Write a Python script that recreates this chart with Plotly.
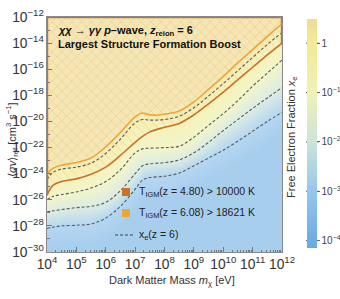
import numpy as np
import plotly.graph_objects as go

# ---------------- data ----------------
log_mass = [4.0, 4.2, 4.5, 5.0, 5.5, 6.0, 6.5, 7.0, 7.25, 7.5, 8.0, 8.5,
            9.0, 9.5, 10.0, 10.5, 11.0, 11.5, 12.0]

# T_IGM(z = 6.08) > 18621 K  (light orange boundary)
log_sv_T608 = [-24.05, -23.6, -23.35, -23.15, -22.8, -21.95, -20.85, -19.65, -19.35,
               -19.5, -19.45, -19.2, -18.5, -17.55, -16.55, -15.5, -14.5, -13.5, -12.5]
# T_IGM(z = 4.80) > 10000 K  (dark orange boundary)
log_sv_T480 = [-25.65, -24.9, -24.6, -24.4, -24.05, -23.5, -22.6, -21.6, -21.15,
               -20.8, -20.45, -20.15, -19.5, -18.65, -17.75, -16.8, -15.85, -14.9, -14.0]

# x_e(z = 6) contours
xe_levels = [0.0, -1.0, -2.0, -3.0]   # log10 x_e
log_sv_xe_1 = [-24.45, -23.9, -23.65, -23.5, -23.2, -22.45, -21.35, -20.1, -19.85,
               -19.9, -19.85, -19.6, -18.95, -18.05, -17.1, -16.1, -15.1, -14.1, -13.2]
log_sv_xe_01 = [-26.0, -25.75, -25.6, -25.4, -25.1, -24.6, -23.7, -22.4, -22.1,
                -22.05, -22.0, -21.9, -21.2, -20.3, -19.4, -18.4, -17.3, -16.3, -15.3]
log_sv_xe_001 = [-26.95, -26.85, -26.75, -26.6, -26.5, -26.2, -25.3, -24.0, -23.4,
                 -23.25, -23.15, -22.95, -22.4, -21.6, -20.7, -19.85, -19.0, -18.2, -17.4]
log_sv_xe_0001 = [-28.2, -28.1, -28.0, -27.95, -27.85, -27.4, -26.5, -25.2, -24.5,
                  -24.3, -24.2, -23.95, -23.4, -22.8, -22.2, -21.5, -20.75, -20.0, -19.3]

cbar_tick_vals = [0, -1, -2, -3, -4]
cbar_tick_text = ["1", "10<sup>−1</sup>", "10<sup>−2</sup>", "10<sup>−3</sup>", "10<sup>−4</sup>"]

# ---------------- styling ----------------
FONT = "Liberation Sans, Arial, sans-serif"
DARK_OR = "#c8722a"
LIGHT_OR = "#eba53c"
ZMIN, ZMAX = -4.15, 0.49

colorscale = [
    [0.0, "rgb(105,168,226)"],
    [0.248, "rgb(150,198,236)"],
    [0.463, "rgb(205,228,215)"],
    [0.679, "rgb(238,242,180)"],
    [0.894, "rgb(243,234,150)"],
    [1.0, "rgb(240,218,150)"],
]

# ---------------- background x_e field built from the contours ----------------
lm = np.array(log_mass)
gx = np.linspace(4, 12, 161)
gy = np.linspace(-30, -12, 181)
c_lines = [np.interp(gx, lm, c) for c in (log_sv_xe_0001, log_sv_xe_001, log_sv_xe_01, log_sv_xe_1)]
Z = np.empty((len(gy), len(gx)))
for j in range(len(gx)):
    c4, c3, c2, c1 = [c[j] for c in c_lines]
    xp = [-31, c4 - 1.5, c4, c3, c2, c1, c1 + 1.0, -11]
    fp = [-3.45, -3.45, xe_levels[3], xe_levels[2], xe_levels[1], xe_levels[0], 0.4, 0.4]
    Z[:, j] = np.interp(gy, xp, fp)

fig = go.Figure()
fig.add_trace(go.Heatmap(
    x=10 ** gx, y=10 ** gy, z=Z, colorscale=colorscale, zmin=ZMIN, zmax=ZMAX,
    opacity=0.7, zsmooth="best", hoverinfo="skip",
    colorbar=dict(
        x=(307 - 47) / 235, xanchor="left", xpad=0, ypad=0,
        y=(252 - 133.5) / 235, yanchor="middle", len=229 / 235, lenmode="fraction",
        thickness=10, outlinewidth=0,
        tickvals=cbar_tick_vals, ticktext=cbar_tick_text,
        ticks="outside", ticklen=3, tickcolor="#666",
        tickfont=dict(size=10, color="#444", family=FONT),
    ),
))

mass = [10 ** v for v in log_mass]

def region(log_sv, fill, shape):
    xs = mass + [1e12, 1e4]
    ys = [10 ** v for v in log_sv] + [1e-12, 1e-12]
    return go.Scatter(x=xs, y=ys, mode="lines", fill="toself", line=dict(width=0),
                      fillcolor=fill, hoverinfo="skip", showlegend=False,
                      fillpattern=dict(shape=shape, fgcolor="rgba(236,170,90,0.75)",
                                       bgcolor="rgba(0,0,0,0)", size=7, solidity=0.12,
                                       fillmode="overlay"))

fig.add_trace(region(log_sv_T480, "rgba(250,225,175,0.45)", "\\"))
fig.add_trace(region(log_sv_T608, "rgba(250,222,170,0.6)", "/"))

for c in (log_sv_xe_1, log_sv_xe_01, log_sv_xe_001, log_sv_xe_0001):
    fig.add_trace(go.Scatter(x=mass, y=[10 ** v for v in c], mode="lines",
                             line=dict(color="#5a5a5a", width=1.1, dash="3px,2px", shape="spline"),
                             hoverinfo="skip", showlegend=False))

# frame-edge outline of the excluded region
fig.add_trace(go.Scatter(x=[1e12, 1e12, 1e4, 1e4],
                         y=[10 ** log_sv_T480[-1], 1e-12, 1e-12, 10 ** log_sv_T480[0]],
                         mode="lines", line=dict(color=DARK_OR, width=2.4),
                         hoverinfo="skip", showlegend=False))
fig.add_trace(go.Scatter(x=mass, y=[10 ** v for v in log_sv_T480], mode="lines",
                         line=dict(color=DARK_OR, width=1.6, shape="spline"),
                         hoverinfo="skip", showlegend=False))
fig.add_trace(go.Scatter(x=mass, y=[10 ** v for v in log_sv_T608], mode="lines",
                         line=dict(color=LIGHT_OR, width=1.6, shape="spline"),
                         hoverinfo="skip", showlegend=False))

# ---------------- layout ----------------
def px(xp):
    return (xp - 47) / 235

def py(yp):
    return (252 - yp) / 235

ann = []
ann.append(dict(x=px(56), y=py(31), xref="paper", yref="paper", xanchor="left", yanchor="middle",
                showarrow=False, font=dict(size=11, color="#111", family=FONT),
                text="<b><i>χχ</i> → <i>γγ p</i>–wave, <i>z</i><sub>reion</sub> = 6</b>"))
ann.append(dict(x=px(56), y=py(44), xref="paper", yref="paper", xanchor="left", yanchor="middle",
                showarrow=False, font=dict(size=11, color="#111", family=FONT),
                text="<b>Largest Structure Formation Boost</b>"))
ann.append(dict(x=px(12), y=py(140), xref="paper", yref="paper", xanchor="center", yanchor="middle",
                textangle=-90, showarrow=False, font=dict(size=11, color="#333", family=FONT),
                text="⟨<i>σv</i>⟩<sub>ref</sub> [cm<sup>3</sup> s<sup>−1</sup>]"))
ann.append(dict(x=px(172), y=py(281), xref="paper", yref="paper", xanchor="center", yanchor="middle",
                showarrow=False, font=dict(size=11, color="#333", family=FONT),
                text="Dark Matter Mass <i>m</i><sub>χ</sub> [eV]"))
ann.append(dict(x=px(292), y=py(137), xref="paper", yref="paper", xanchor="center", yanchor="middle",
                textangle=-90, showarrow=False, font=dict(size=11, color="#333", family=FONT),
                text="Free Electron Fraction <i>x</i><sub>e</sub>"))
leg_text = ["T<sub>IGM</sub>(z = 4.80) > 10000 K", "T<sub>IGM</sub>(z = 6.08) > 18621 K",
            "x<sub>e</sub>(z = 6)"]
for t, yy in zip(leg_text, [192, 213, 235]):
    ann.append(dict(x=px(137), y=py(yy), xref="paper", yref="paper", xanchor="left", yanchor="middle",
                    showarrow=False, font=dict(size=10.5, color="#222", family=FONT), text=t))

shapes = []
for col, yy in [(DARK_OR, 192), (LIGHT_OR, 213)]:
    shapes.append(dict(type="rect", xref="paper", yref="paper", x0=px(122), x1=px(130),
                       y0=py(yy + 4), y1=py(yy - 4), fillcolor=col, line=dict(width=0)))
shapes.append(dict(type="line", xref="paper", yref="paper", x0=px(115), x1=px(133),
                   y0=py(235), y1=py(235), line=dict(color="#444", width=1.1, dash="3px,2px")))
# major tick lines across the colour bar
cb_len = 229 / 235
cb_y0 = (252 - 133.5) / 235 - cb_len / 2
for v in cbar_tick_vals:
    yv = cb_y0 + (v - ZMIN) / (ZMAX - ZMIN) * cb_len
    shapes.append(dict(type="line", xref="paper", yref="paper", x0=px(306), x1=px(319),
                       y0=yv, y1=yv, line=dict(color="#555", width=1)))

axis_common = dict(type="log", showgrid=False, zeroline=False, showline=True, linecolor="#888",
                   linewidth=1, mirror=True, ticks="inside", ticklen=5, tickcolor="#777",
                   exponentformat="power", showexponent="all", automargin=False,
                   tickfont=dict(size=11, color="#333", family=FONT))
fig.update_layout(
    width=340, height=299, margin=dict(l=47, r=58, t=17, b=47, autoexpand=False),
    paper_bgcolor="white", plot_bgcolor="white",
    xaxis=dict(axis_common, range=[4, 12], dtick=1,
               minor=dict(ticks="inside", ticklen=2.5, dtick="D1", tickcolor="#777")),
    yaxis=dict(axis_common, range=[-30, -12], dtick=2,
               minor=dict(ticks="inside", ticklen=3, dtick=1, tickcolor="#777")),
    annotations=ann, shapes=shapes, showlegend=False,
)

fig.write_html("out.html", config={"displayModeBar": False, "staticPlot": True},
               post_script="document.body.style.margin='0';document.body.style.padding='0';")
